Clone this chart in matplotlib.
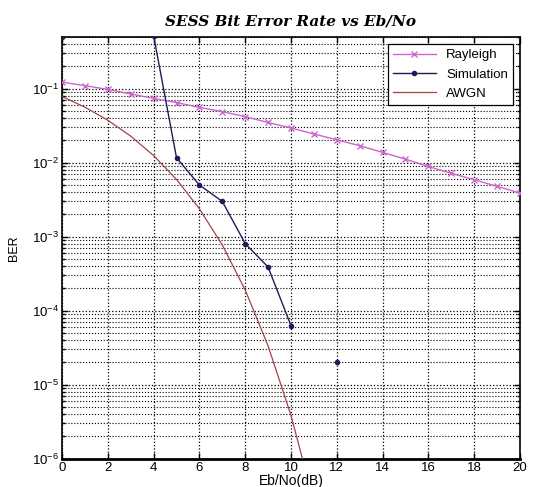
import numpy as np
import matplotlib
matplotlib.use("Agg")
import matplotlib.pyplot as plt
from matplotlib.ticker import LogLocator, FixedLocator, NullFormatter

ebno = list(range(0, 21))
rayleigh = [0.123, 0.110, 0.098, 0.085, 0.074, 0.065, 0.056, 0.049, 0.042, 0.035,
            0.0295, 0.0245, 0.0204, 0.0170, 0.0138, 0.0112, 0.0089, 0.0072,
            0.0059, 0.0048, 0.0039]
sim_x = list(range(0, 21))
simulation = [0.5, 0.7, 0.7, 0.7, 0.52, 0.0117, 0.0050, 0.0030, 0.00081, 0.00039,
              0.000063, np.nan, 0.00002, np.nan, np.nan, np.nan, np.nan, np.nan,
              np.nan, np.nan, np.nan]
awgn_x = list(range(0, 12))
awgn = [0.0786, 0.0563, 0.0375, 0.0229, 0.0125, 0.00595, 0.00239, 7.73e-4,
        1.91e-4, 3.36e-5, 3.87e-6, 2.61e-7]
xticks = list(range(0, 21, 2))

plt.rcParams['font.family'] = ['Liberation Sans', 'DejaVu Sans']

fig = plt.figure(figsize=(5.59, 4.87), dpi=100)
ax = fig.add_axes([0.111, 0.058, 0.819, 0.866])

ax.semilogy(ebno, rayleigh, color='#cc66cc', marker='x', markersize=4,
            linewidth=1.0, label='Rayleigh', zorder=3)
ax.semilogy(sim_x, simulation, color='#1c1c5a', marker='o', markersize=3,
            linewidth=1.0, label='Simulation', zorder=4)
ax.semilogy(awgn_x, awgn, color='#a0454a', linewidth=0.9, label='AWGN', zorder=3)

ax.set_xlim(0, 20)
ax.set_ylim(1e-6, 0.5)
ax.xaxis.set_major_locator(FixedLocator(xticks))
ax.yaxis.set_major_locator(LogLocator(base=10, numticks=10))
ax.yaxis.set_minor_locator(LogLocator(base=10, subs=np.arange(2, 10), numticks=20))
ax.yaxis.set_minor_formatter(NullFormatter())

ax.grid(True, which='major', axis='both', color='black', linestyle=':', linewidth=0.9)
ax.grid(True, which='minor', axis='y', color='black', linestyle=':', linewidth=0.8)

ax.tick_params(which='both', direction='in', top=True, right=True, labelsize=9.5,
               width=1.0, pad=2)
ax.tick_params(which='major', length=4)
ax.tick_params(which='minor', length=2)
for s in ax.spines.values():
    s.set_linewidth(1.2)
ax.spines['bottom'].set_linewidth(2.0)

ax.set_xlabel('Eb/No(dB)', fontsize=10, labelpad=0)
ax.set_ylabel('BER', fontsize=9, labelpad=9)
ax.set_title('SESS Bit Error Rate vs Eb/No', fontsize=11, fontweight='bold',
             fontstyle='italic', family=['DejaVu Serif'], pad=8)

leg = ax.legend(loc='upper right', fontsize=9.5, frameon=True, fancybox=False,
                edgecolor='black', framealpha=1.0, borderaxespad=0.5,
                handlelength=3.2, labelspacing=0.55)
leg.get_frame().set_linewidth(0.9)

fig.savefig('out.png', dpi=100)
